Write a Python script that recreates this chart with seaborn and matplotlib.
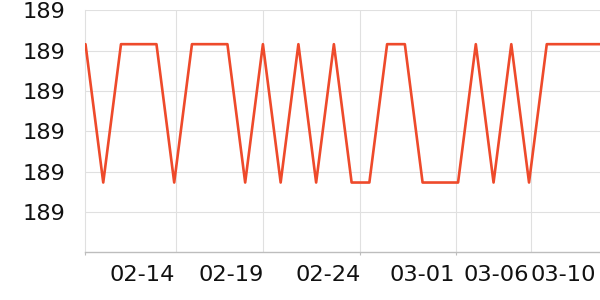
import matplotlib
matplotlib.use("Agg")
import matplotlib.pyplot as plt
import seaborn as sns
import pandas as pd
import numpy as np
from matplotlib.ticker import FuncFormatter, FixedLocator
import matplotlib.dates as mdates

# ---- data ----
dates = pd.date_range("2025-02-09", periods=30, freq="D")
HI, LO = 189.1516, 189.1173
levels = ["H", "L", "H", "H", "H", "L", "H", "H", "H", "L",
          "H", "L", "H", "L", "H", "L", "L", "H", "H", "L",
          "L", "L", "H", "L", "H", "L", "H", "H", "H", "H"]
values = [HI if s == "H" else LO for s in levels]
tick_labels = ["02-14", "02-19", "02-24", "03-01", "03-06", "03-10"]
label_days = [5.04, 10.03, 15.53, 20.80, 24.97, 28.75]   # label right-edge anchors (days from start)
grid_days = [5.10, 9.98, 15.47, 20.86, 25.13]            # vertical grid lines
mark_days = [0.0, 15.47, 20.86]                          # small tick marks below axis
y_ticks = [189.11, 189.12, 189.13, 189.14, 189.15, 189.16]

df = pd.DataFrame({"date": dates, "value": values})

sns.set_theme(style="white")
plt.rcParams["font.family"] = ["DejaVu Sans"]

fig = plt.figure(figsize=(6, 3), dpi=100)
ax = fig.add_axes([85.5 / 600, (300 - 252.3) / 300, (600 - 85.5) / 600, (252.3 - 10.3) / 300])

start = dates[0]
for d in grid_days:
    ax.axvline(start + pd.Timedelta(days=d), color="#e0e0e0", linewidth=0.8, zorder=0)

sns.lineplot(data=df, x="date", y="value", ax=ax, color="#ee4a2b", linewidth=1.9, zorder=3)

label_pos = [start + pd.Timedelta(days=d) for d in label_days]
mark_pos = [mdates.date2num(start + pd.Timedelta(days=d)) for d in mark_days]
ax.set_xlim(dates[0], dates[-1])
ax.set_xticks(label_pos)
ax.set_xticklabels(tick_labels, ha="right")
ax.xaxis.set_minor_locator(FixedLocator(mark_pos))
ax.set_ylim(189.10, 189.16)
ax.set_yticks(y_ticks)
ax.yaxis.set_major_formatter(FuncFormatter(lambda v, p: f"{v:.0f}"))

ax.grid(True, axis="y", which="major", color="#e0e0e0", linewidth=0.8, zorder=0)
ax.grid(False, axis="x")
for side in ["top", "right"]:
    ax.spines[side].set_visible(False)
ax.spines["left"].set_color("#e0e0e0")
ax.spines["left"].set_linewidth(0.8)
ax.spines["bottom"].set_color("#bdbdbd")
ax.spines["bottom"].set_linewidth(1.0)

ax.tick_params(axis="y", length=2.2, color="#e0e0e0", width=0.8, pad=12.5, labelsize=16.2, labelcolor="#111111")
ax.tick_params(axis="x", which="major", length=0, pad=9.5, labelsize=16.2, labelcolor="#111111")
ax.tick_params(axis="x", which="minor", length=2.5, width=0.8, color="#bdbdbd", bottom=True)
ax.set_xlabel("")
ax.set_ylabel("")

fig.savefig("out.png", dpi=100)
